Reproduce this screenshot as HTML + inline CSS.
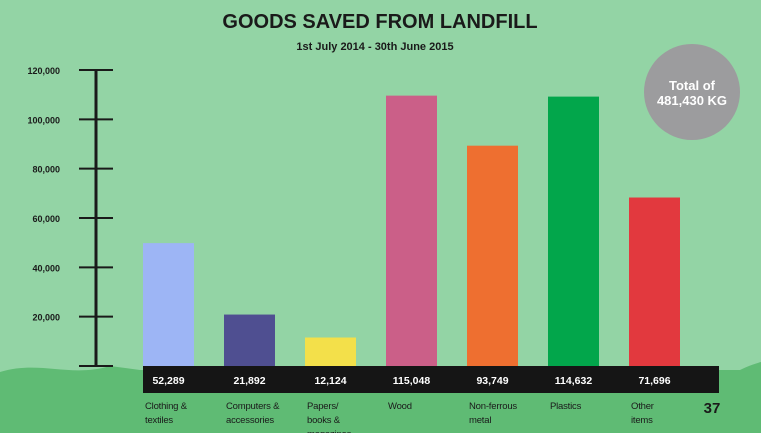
<!DOCTYPE html>
<html><head><meta charset="utf-8"><style>
body{margin:0;width:761px;height:433px;overflow:hidden;background:#93d4a5;font-family:"Liberation Sans",sans-serif}
svg{display:block}
</style></head><body>
<svg id="c" width="761" height="433">
<path d="M0,372 C40,360 70,378 110,366 L140,370 L740,370 C750,365 761,362 761,362 L761,433 L0,433 Z" fill="#5fbb74"/>
<text x="380" y="28" text-anchor="middle" font-size="20" font-weight="bold" fill="#1a1a1a">GOODS SAVED FROM LANDFILL</text>
<text x="375" y="50" text-anchor="middle" font-size="11" font-weight="bold" fill="#1a1a1a">1st July 2014 - 30th June 2015</text>
<circle cx="692" cy="92" r="48" fill="#9c9c9e"/>
<text x="692" y="90" text-anchor="middle" font-size="13" font-weight="bold" fill="#fff">Total of</text>
<text x="692" y="105" text-anchor="middle" font-size="13" font-weight="bold" fill="#fff">481,430 KG</text>
<line x1="96" y1="70" x2="96" y2="366" stroke="#1a1a1a" stroke-width="3"/>
<line x1="79" y1="366" x2="113" y2="366" stroke="#1a1a1a" stroke-width="2"/>
<rect x="143" y="366" width="576" height="27" fill="#151515"/>
<text x="712" y="413" text-anchor="middle" font-size="15" font-weight="bold" fill="#1a1a1a">37</text>
<g id="g"></g>
</svg>
<script>
const categories=["Clothing & textiles","Computers & accessories","Papers/ books & magazines","Wood","Non-ferrous metal","Plastics","Other items"];
const categoryLines=[["Clothing &","textiles"],["Computers &","accessories"],["Papers/","books &","magazines"],["Wood"],["Non-ferrous","metal"],["Plastics"],["Other","items"]];
const values=[52289,21892,12124,115048,93749,114632,71696];
const valueLabels=["52,289","21,892","12,124","115,048","93,749","114,632","71,696"];
const colors=["#9db5f5","#4f4f91","#f3e04a","#cb5f88","#ee6f30","#02a64b","#e2393e"];
const tickValues=[20000,40000,60000,80000,100000,120000];
const tickLabels=["20,000","40,000","60,000","80,000","100,000","120,000"];
const NS="http://www.w3.org/2000/svg",g=document.getElementById('g');
const y0=366;
function yBar(v){return y0-v*0.00235;}
function yTick(v){return y0-v*(296/120000);}
function xBar(i){return 143+i*81;}
const bw=51;
function mk(t,a){const e=document.createElementNS(NS,t);for(const k in a)e.setAttribute(k,a[k]);g.appendChild(e);return e;}
tickValues.forEach((v,i)=>{
 const y=yTick(v);
 const l=mk('line',{x1:79,x2:113,y1:y,y2:y,stroke:'#1a1a1a','stroke-width':2});
 
 
 const t=mk('text',{x:60,y:y+4,'text-anchor':'end','font-size':9,'font-weight':'bold',fill:'#1a1a1a'});
 t.textContent=tickLabels[i];
 
 
});
values.forEach((v,i)=>{
 const x=xBar(i),y=yBar(v);
 const r=mk('rect',{x:x,y:y,width:bw,height:y0-y,fill:colors[i]});
 
 
 const t=mk('text',{x:x+bw/2,y:384,'text-anchor':'middle','font-size':10.5,'font-weight':'bold',fill:'#fff'});
 t.textContent=valueLabels[i];
 
 
 categoryLines[i].forEach((s,j)=>{
  const c=mk('text',{x:x+2,y:409+j*14,'font-size':9.5,fill:'#1a1a1a','letter-spacing':'-0.2'});
  c.textContent=s;
  
  
 });
});
</script>
</body></html>
